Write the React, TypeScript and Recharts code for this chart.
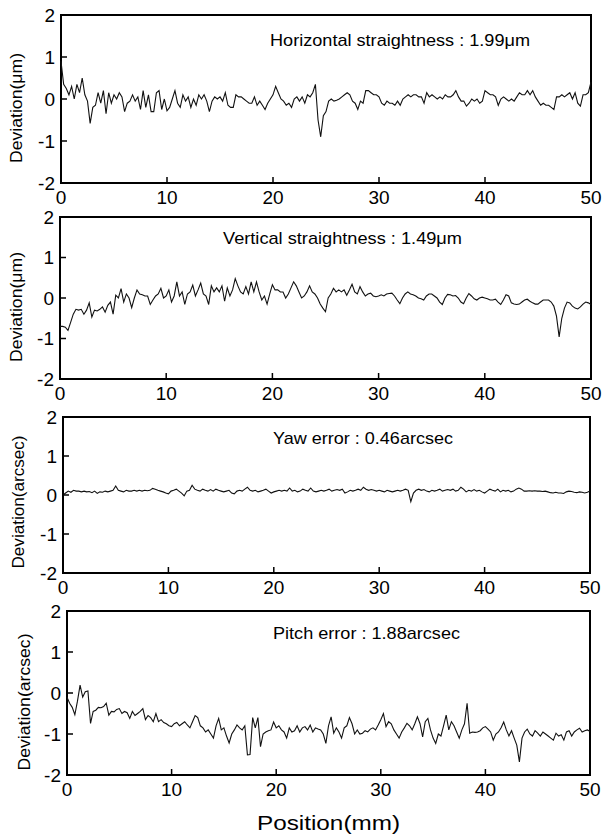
import { LineChart, Line, XAxis, YAxis, ReferenceArea } from "recharts";

const FONT = '"Liberation Sans", Arial, Helvetica, sans-serif';

// positions along the stage, mm
const positions = [
  0, 0.25, 0.5, 0.75, 1, 1.25, 1.5, 1.75, 2, 2.25, 2.5, 2.75, 3, 3.25, 3.5, 3.75, 4, 4.25, 4.5, 4.75,
  5, 5.25, 5.5, 5.75, 6, 6.25, 6.5, 6.75, 7, 7.25, 7.5, 7.75, 8, 8.25, 8.5, 8.75, 9, 9.25, 9.5, 9.75,
  10, 10.25, 10.5, 10.75, 11, 11.25, 11.5, 11.75, 12, 12.25, 12.5, 12.75, 13, 13.25, 13.5, 13.75, 14, 14.25, 14.5, 14.75,
  15, 15.25, 15.5, 15.75, 16, 16.25, 16.5, 16.75, 17, 17.25, 17.5, 17.75, 18, 18.25, 18.5, 18.75, 19, 19.25, 19.5, 19.75,
  20, 20.25, 20.5, 20.75, 21, 21.25, 21.5, 21.75, 22, 22.25, 22.5, 22.75, 23, 23.25, 23.5, 23.75, 24, 24.25, 24.5, 24.75,
  25, 25.25, 25.5, 25.75, 26, 26.25, 26.5, 26.75, 27, 27.25, 27.5, 27.75, 28, 28.25, 28.5, 28.75, 29, 29.25, 29.5, 29.75,
  30, 30.25, 30.5, 30.75, 31, 31.25, 31.5, 31.75, 32, 32.25, 32.5, 32.75, 33, 33.25, 33.5, 33.75, 34, 34.25, 34.5, 34.75,
  35, 35.25, 35.5, 35.75, 36, 36.25, 36.5, 36.75, 37, 37.25, 37.5, 37.75, 38, 38.25, 38.5, 38.75, 39, 39.25, 39.5, 39.75,
  40, 40.25, 40.5, 40.75, 41, 41.25, 41.5, 41.75, 42, 42.25, 42.5, 42.75, 43, 43.25, 43.5, 43.75, 44, 44.25, 44.5, 44.75,
  45, 45.25, 45.5, 45.75, 46, 46.25, 46.5, 46.75, 47, 47.25, 47.5, 47.75, 48, 48.25, 48.5, 48.75, 49, 49.25, 49.5, 49.75,
  50,
];

// horizontal straightness, um
const horizontal = [
  0.9, 0.35, 0.25, 0.1, 0.3, 0.0, 0.35, 0.15, 0.5, 0.1, -0.05, -0.58, -0.2, -0.15, 0.15, -0.1, 0.2, -0.35, 0.15, -0.1,
  0.1, 0.0, 0.15, 0.05, -0.3, -0.1, -0.05, 0.1, -0.05, 0.05, -0.25, 0.2, -0.2, 0.1, -0.3, -0.3, 0.15, 0.2, -0.25, 0.0,
  -0.28, -0.2, 0.0, 0.2, -0.1, -0.2, 0.1, -0.05, 0.05, -0.2, 0.0, -0.15, 0.1, 0.0, 0.1, -0.05, -0.3, -0.05, 0.05, 0.0,
  0.05, -0.05, 0.15, -0.15, -0.2, -0.2, 0.1, 0.05, 0.05, 0.0, -0.05, -0.1, -0.1, 0.05, -0.15, -0.05, -0.15, -0.25, -0.1, 0.0,
  0.1, 0.3, 0.15, 0.0, -0.05, -0.15, -0.1, -0.2, 0.0, 0.05, -0.05, 0.05, -0.1, 0.1, 0.05, 0.15, 0.35, -0.5, -0.9, -0.4,
  -0.3, -0.05, 0.0, -0.05, -0.03, 0.0, 0.05, 0.1, 0.15, 0.1, -0.05, -0.1, -0.25, -0.05, -0.1, 0.2, 0.2, 0.15, 0.1, 0.1,
  0.05, -0.1, -0.15, -0.05, -0.1, -0.1, -0.15, -0.05, -0.15, 0.0, 0.05, 0.1, 0.05, 0.1, 0.1, 0.05, 0.05, -0.1, 0.15, 0.05,
  0.1, 0.05, 0.0, 0.05, 0.0, 0.1, 0.05, 0.05, 0.1, 0.2, 0.05, -0.05, -0.05, -0.17, -0.1, 0.0, -0.05, 0.0, -0.1, -0.05,
  0.2, 0.15, 0.1, 0.1, 0.05, -0.15, 0.0, 0.05, 0.0, -0.05, 0.0, -0.05, 0.05, 0.15, 0.1, 0.1, 0.2, 0.1, 0.2, 0.05,
  -0.05, -0.15, -0.1, -0.15, -0.15, -0.2, -0.25, 0.05, 0.05, 0.1, 0.05, 0.1, 0.15, 0.0, 0.15, -0.1, -0.17, 0.1, 0.1, 0.15,
  0.4,
];

// vertical straightness, um
const vertical = [
  -0.7, -0.7, -0.72, -0.8, -0.6, -0.4, -0.28, -0.3, -0.28, -0.4, -0.3, -0.12, -0.47, -0.3, -0.32, -0.28, -0.22, -0.35, -0.18, -0.1,
  -0.4, 0.07, 0.0, 0.23, -0.1, 0.1, 0.0, -0.24, 0.0, 0.2, 0.1, 0.08, 0.05, 0.05, -0.16, -0.05, 0.05, 0.1, 0.24, 0.0,
  0.05, 0.2, -0.1, 0.05, 0.4, 0.05, 0.15, -0.16, 0.1, 0.15, 0.32, 0.05, 0.2, 0.37, 0.1, 0.05, -0.16, 0.3, 0.15, 0.25,
  0.15, 0.3, -0.08, 0.25, 0.05, 0.2, 0.48, 0.3, 0.15, 0.1, 0.28, 0.1, 0.4, 0.15, 0.4, 0.15, -0.05, 0.05, -0.15, 0.1,
  0.33, 0.2, 0.2, 0.15, 0.15, 0.0, 0.1, 0.25, 0.4, 0.3, 0.15, 0.0, 0.05, 0.15, 0.3, 0.15, 0.1, 0.0, -0.15, -0.25,
  -0.34, 0.0, 0.1, 0.24, 0.15, 0.2, 0.15, 0.2, 0.07, 0.2, 0.34, 0.15, 0.1, 0.28, 0.15, 0.05, 0.1, 0.12, 0.05, 0.03,
  0.05, 0.08, 0.05, 0.1, 0.11, 0.12, 0.05, -0.05, -0.14, 0.0, 0.1, 0.15, 0.1, 0.08, 0.05, 0.0, -0.02, -0.05, 0.05, 0.1,
  0.1, 0.05, 0.0, -0.1, -0.16, 0.0, 0.09, 0.08, 0.05, 0.06, 0.0, -0.1, -0.14, 0.0, 0.11, 0.05, -0.02, -0.05, 0.0, 0.02,
  0.0, -0.02, -0.05, -0.05, -0.03, -0.1, -0.16, -0.05, 0.08, 0.05, -0.12, -0.15, -0.16, -0.15, -0.1, -0.05, -0.03, -0.08, -0.12, -0.15,
  -0.15, -0.1, -0.05, -0.05, -0.05, -0.1, -0.2, -0.45, -0.96, -0.5, -0.25, -0.1, -0.12, -0.2, -0.25, -0.27, -0.22, -0.15, -0.1, -0.12,
  -0.16,
];

// yaw error, arcsec
const yaw = [
  0.0, 0.05, 0.1, 0.07, 0.12, 0.1, 0.1, 0.08, 0.1, 0.08, 0.09, 0.06, 0.1, 0.04, 0.08, 0.07, 0.1, 0.08, 0.1, 0.12,
  0.23, 0.12, 0.1, 0.08, 0.12, 0.1, 0.1, 0.12, 0.1, 0.12, 0.1, 0.12, 0.11, 0.12, 0.17, 0.15, 0.12, 0.1, 0.08, 0.05,
  0.03, 0.1, 0.12, 0.15, 0.1, 0.05, -0.02, 0.1, 0.12, 0.25, 0.15, 0.12, 0.1, 0.15, 0.12, 0.1, 0.14, 0.1, 0.15, 0.12,
  0.1, 0.08, 0.1, 0.12, 0.05, 0.03, 0.1, 0.12, 0.1, 0.15, 0.2, 0.12, 0.1, 0.12, 0.08, 0.1, 0.12, 0.15, 0.1, 0.05,
  0.08, 0.1, 0.12, 0.1, 0.12, 0.1, 0.18, 0.1, 0.12, 0.08, 0.1, 0.15, 0.12, 0.1, 0.18, 0.1, 0.08, 0.1, 0.12, 0.1,
  0.12, 0.15, 0.1, 0.12, 0.14, 0.12, 0.15, 0.05, 0.08, 0.12, 0.1, 0.12, 0.15, 0.12, 0.2, 0.15, 0.12, 0.14, 0.12, 0.1,
  0.12, 0.1, 0.08, 0.12, 0.1, 0.08, 0.1, 0.12, 0.1, 0.12, 0.15, 0.12, -0.17, 0.05, 0.12, 0.15, 0.12, 0.14, 0.1, 0.08,
  0.12, 0.1, 0.12, 0.15, 0.1, 0.12, 0.14, 0.12, 0.15, 0.1, 0.12, 0.2, 0.15, 0.08, 0.12, 0.1, 0.14, 0.1, 0.12, 0.08,
  0.05, 0.1, 0.15, 0.12, 0.1, 0.15, 0.08, 0.12, 0.1, 0.12, 0.08, 0.1, 0.15, 0.18, 0.15, 0.1, 0.1, 0.11, 0.1, 0.11,
  0.1, 0.1, 0.09, 0.1, 0.08, 0.06, 0.05, 0.07, 0.05, 0.05, 0.04, 0.08, 0.1, 0.09, 0.07, 0.06, 0.08, 0.07, 0.05, 0.07,
  0.1,
];

// pitch error, arcsec
const pitch = [
  -0.1, -0.25, -0.35, -0.53, -0.2, 0.19, -0.1, 0.03, 0.05, -0.74, -0.45, -0.42, -0.35, -0.36, -0.33, -0.25, -0.54, -0.45, -0.46, -0.4,
  -0.38, -0.5, -0.45, -0.48, -0.62, -0.45, -0.55, -0.5, -0.45, -0.38, -0.65, -0.55, -0.6, -0.7, -0.5, -0.7, -0.65, -0.72, -0.75, -0.8,
  -0.82, -0.75, -0.72, -0.8, -0.75, -0.7, -0.78, -0.85, -0.7, -0.55, -0.6, -0.8, -0.85, -0.95, -0.9, -1.0, -1.1, -0.8, -0.62, -0.9,
  -0.85, -1.05, -1.22, -1.0, -0.9, -0.78, -0.85, -0.9, -0.8, -1.51, -1.5, -0.6, -0.85, -0.6, -1.31, -1.0, -0.95, -0.92, -0.9, -0.71,
  -0.85, -0.8, -0.9, -0.95, -1.1, -0.85, -0.95, -0.92, -0.8, -0.95, -0.85, -0.82, -0.9, -0.78, -0.95, -0.85, -0.88, -0.9, -1.0, -1.23,
  -0.8, -0.58, -0.98, -0.85, -0.95, -1.1, -0.85, -0.8, -0.6, -0.75, -1.0, -0.9, -1.0, -0.98, -0.92, -0.95, -0.88, -0.85, -0.9, -0.78,
  -0.65, -0.5, -0.82, -0.7, -0.75, -0.9, -1.0, -1.1, -0.95, -0.85, -0.74, -0.8, -0.9, -0.75, -0.58, -0.75, -1.07, -0.7, -0.62, -0.9,
  -1.1, -1.23, -1.0, -1.05, -0.8, -0.54, -0.9, -0.7, -0.8, -0.95, -1.1, -0.9, -0.75, -0.25, -0.98, -0.95, -0.96, -0.95, -0.92, -0.85,
  -0.82, -0.88, -0.95, -1.15, -1.0, -0.95, -0.85, -0.71, -0.9, -1.05, -0.92, -1.1, -1.27, -1.68, -1.1, -0.95, -0.88, -1.0, -1.05, -0.92,
  -0.98, -1.05, -0.95, -1.0, -1.05, -1.1, -1.15, -0.98, -1.05, -1.02, -1.15, -0.95, -0.92, -1.05, -0.95, -0.9, -0.86, -0.95, -0.92, -0.9,
  -0.94,
];

const xTicks = [0, 10, 20, 30, 40, 50];
const yTicks = [-2, -1, 0, 1, 2];

const rows = positions.map((x, i) => ({
  x,
  horizontal: horizontal[i],
  vertical: vertical[i],
  yaw: yaw[i],
  pitch: pitch[i],
}));

const panels = [
  { key: "horizontal", left: 61, right: 591, top: 15, bottom: 183 },
  { key: "vertical", left: 60, right: 591, top: 217, bottom: 379 },
  { key: "yaw", left: 63, right: 590, top: 417, bottom: 573 },
  { key: "pitch", left: 67, right: 590, top: 611, bottom: 775 },
];

const titles = [
  { text: "Horizontal straightness : 1.99\u03bcm", x: 270, y: 46, w: 260 },
  { text: "Vertical straightness : 1.49\u03bcm", x: 223, y: 244, w: 239 },
  { text: "Yaw error : 0.46arcsec", x: 273, y: 444, w: 180 },
  { text: "Pitch error : 1.88arcsec", x: 273, y: 639, w: 187 },
];

const yLabels = [
  { text: "Deviation(\u03bcm)", x: 22, y: 108, w: 110 },
  { text: "Deviation(\u03bcm)", x: 22, y: 307, w: 110 },
  { text: "Deviation(arcsec)", x: 24, y: 502, w: 133 },
  { text: "Deviation(arcsec)", x: 30, y: 702, w: 137 },
];

function XTick(props: any) {
  const { x, y, payload } = props;
  return (
    <g>
      <line x1={x} x2={x} y1={y} y2={y - 6} stroke="#000" strokeWidth={1.5} />
      <text x={x} y={y + 21} textAnchor="middle" fontSize={19} fontFamily={FONT} fill="#000">
        {payload.value}
      </text>
    </g>
  );
}

function YTick(props: any) {
  const { x, y, payload } = props;
  return (
    <g>
      <line x1={x} x2={x + 6} y1={y} y2={y} stroke="#000" strokeWidth={1.5} />
      <text x={x - 6} y={y} dy="0.36em" textAnchor="end" fontSize={19} fontFamily={FONT} fill="#000">
        {payload.value}
      </text>
    </g>
  );
}

function Panel({ p }: { p: (typeof panels)[number] }) {
  const padTop = 15;
  const padBottom = 30;
  const h = p.bottom - p.top + padTop + padBottom;
  // axes take 1px each (zero-sized axes are not drawn), so the margins give that back
  return (
    <div style={{ position: "absolute", left: 0, top: p.top - padTop }}>
      <LineChart
        width={604}
        height={h}
        data={rows}
        margin={{ top: padTop, bottom: padBottom - 1, left: p.left - 1, right: 604 - p.right }}
      >
        <XAxis
          dataKey="x"
          type="number"
          domain={[0, 50]}
          ticks={xTicks}
          interval={0}
          height={1}
          axisLine={false}
          tickLine={false}
          tickSize={0}
          tickMargin={0}
          tick={<XTick />}
        />
        <YAxis
          type="number"
          domain={[-2, 2]}
          ticks={yTicks}
          interval={0}
          width={1}
          axisLine={false}
          tickLine={false}
          tickSize={0}
          tickMargin={0}
          tick={<YTick />}
        />
        <ReferenceArea x1={0} x2={50} y1={-2} y2={2} fill="none" stroke="#000" strokeWidth={2} />
        <Line
          dataKey={p.key}
          type="linear"
          stroke="#111"
          strokeWidth={1.1}
          dot={false}
          isAnimationActive={false}
        />
      </LineChart>
    </div>
  );
}

export default function App() {
  return (
    <div
      style={{
        position: "absolute",
        left: 0,
        top: 0,
        width: 604,
        height: 839,
        background: "#fff",
        overflow: "hidden",
      }}
    >
      {panels.map((p) => (
        <Panel key={p.key} p={p} />
      ))}
      <svg
        width={604}
        height={839}
        style={{ position: "absolute", left: 0, top: 0, pointerEvents: "none" }}
        fontFamily={FONT}
      >
        {titles.map((t) => (
          <text key={t.text} x={t.x} y={t.y} fontSize={17} textLength={t.w} lengthAdjust="spacingAndGlyphs" fill="#000">
            {t.text}
          </text>
        ))}
        {yLabels.map((l, i) => (
          <text
            key={i}
            transform={`translate(${l.x},${l.y}) rotate(-90)`}
            textAnchor="middle"
            fontSize={16.5}
            textLength={l.w}
            lengthAdjust="spacingAndGlyphs"
            fill="#000"
          >
            {l.text}
          </text>
        ))}
        <text x={257} y={830} fontSize={21} textLength={143} lengthAdjust="spacingAndGlyphs" fill="#000">
          Position(mm)
        </text>
      </svg>
    </div>
  );
}
